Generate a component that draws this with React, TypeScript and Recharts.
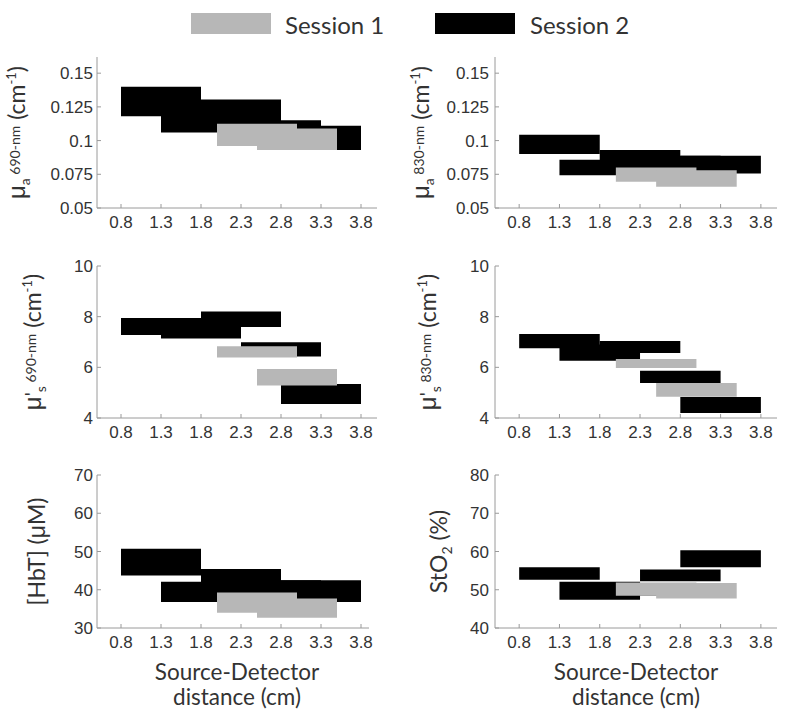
import React from 'react';
import { ComposedChart, XAxis, YAxis, ReferenceArea } from 'recharts';

// ---- data ----
const xTicks = [0.8, 1.3, 1.8, 2.3, 2.8, 3.3, 3.8];
const session2Starts = [0.8, 1.3, 1.8, 2.3, 2.8];
const session1Starts = [2.0, 2.5];
const blockWidth = 1.0;

// [low, high] per block
const mua690S2: [number, number][] = [[0.118, 0.14], [0.106, 0.124], [0.108, 0.1305], [0.1, 0.115], [0.093, 0.111]];
const mua690S1: [number, number][] = [[0.096, 0.1125], [0.093, 0.109]];
const mua830S2: [number, number][] = [[0.09, 0.1044], [0.0743, 0.0858], [0.08, 0.0931], [0.078, 0.0887], [0.0755, 0.0887]];
const mua830S1: [number, number][] = [[0.0694, 0.08], [0.0657, 0.078]];
const mus690S2: [number, number][] = [[7.28, 7.95], [7.14, 7.9], [7.59, 8.2], [6.43, 6.99], [4.55, 5.34]];
const mus690S1: [number, number][] = [[6.39, 6.83], [5.28, 5.93]];
const mus830S2: [number, number][] = [[6.75, 7.32], [6.26, 6.9], [6.57, 7.04], [5.38, 5.87], [4.2, 4.83]];
const mus830S1: [number, number][] = [[5.97, 6.33], [4.84, 5.38]];
const hbtS2: [number, number][] = [[43.7, 50.7], [36.8, 42.1], [39.5, 45.4], [38, 42.5], [36.8, 42.5]];
const hbtS1: [number, number][] = [[34.0, 39.3], [32.7, 37.7]];
const sto2S2: [number, number][] = [[52.6, 55.9], [47.4, 52.1], [48.5, 51.5], [52.2, 55.3], [55.9, 60.3]];
const sto2S1: [number, number][] = [[48.4, 51.9], [47.7, 51.75]];

const muaTicks = [0.05, 0.075, 0.1, 0.125, 0.15];
const musTicks = [4, 6, 8, 10];
const hbtTicks = [30, 40, 50, 60, 70];
const sto2Ticks = [40, 50, 60, 70, 80];

const legendLabels = ['Session 1', 'Session 2'];

// ---- styles ----
const GREY = '#b7b7b7';
const BLACK = '#000000';
const FRAME = '#9a9a9a';
const TEXT = '#333333';
const TICK_FONT = { fill: TEXT, fontSize: 17, fontFamily: 'Liberation Sans, Arial, sans-serif' };
const TITLE_FONT = 'Lato, "Open Sans", sans-serif';

const ML = 96;
const MT = 10;
const MR = 10;

type LabelKind = 'mua690' | 'mua830' | 'mus690' | 'mus830' | 'hbt' | 'sto2';

function renderYLabel(kind: LabelKind, x: number, y: number) {
  const common = {
    x,
    y,
    transform: `rotate(-90 ${x} ${y})`,
    textAnchor: 'middle' as const,
    fill: TEXT,
    fontFamily: TITLE_FONT,
    fontSize: 23,
  };
  const mu = <tspan fontFamily="Liberation Sans, Arial, sans-serif" fontSize={24}>μ</tspan>;
  if (kind === 'hbt') {
    return (
      <text {...common}>
        [HbT] (<tspan fontFamily="Liberation Sans, Arial, sans-serif">μ</tspan>M)
      </text>
    );
  }
  if (kind === 'sto2') {
    return (
      <text {...common}>
        StO<tspan fontSize={14} dy={5}>2</tspan>
        <tspan dy={-5}> (%)</tspan>
      </text>
    );
  }
  const wl = kind === 'mua690' || kind === 'mus690' ? '690-nm' : '830-nm';
  const isS = kind === 'mus690' || kind === 'mus830';
  return (
    <text {...common}>
      {mu}
      {isS ? <tspan fontSize={20} dy={-2}>'</tspan> : null}
      <tspan fontSize={14} dy={isS ? 7 : 5}>{isS ? 's' : 'a'}</tspan>
      <tspan fontSize={14} dy={-10}> {wl}</tspan>
      <tspan dy={5}> (cm</tspan>
      <tspan fontSize={13} dy={-9}>-1</tspan>
      <tspan dy={9}>)</tspan>
    </text>
  );
}

interface PanelProps {
  left: number;
  top: number;
  w: number;
  h: number;
  xDomain: [number, number];
  yDomain: [number, number];
  yTicks: number[];
  s1: [number, number][];
  s2: [number, number][];
  kind: LabelKind;
  labelX: number; // page x of label baseline
  xTitle?: boolean;
  titleDx?: number;
  tickGap: number;
}

function Panel(p: PanelProps) {
  const MB = p.xTitle ? 90 : 30;
  const W = p.w + ML + MR;
  const H = p.h + MT + MB;
  const chartLeft = p.left - ML;
  const chartTop = p.top - MT;
  const lx = p.labelX - chartLeft;
  const ly = MT + p.h / 2;
  const cx = ML + p.w / 2 + (p.titleDx || 0);
  return (
    <div style={{ position: 'absolute', left: chartLeft, top: chartTop, width: W, height: H }}>
      <ComposedChart width={W} height={H} margin={{ top: MT, right: MR, left: 0, bottom: 0 }} data={xTicks.map((x) => ({ x }))}>
        <XAxis
          xAxisId="b"
          dataKey="x"
          type="number"
          domain={p.xDomain}
          ticks={xTicks}
          interval={0}
          allowDataOverflow
          height={MB}
          tickSize={-4}
          tickMargin={12}
          axisLine={{ stroke: FRAME }}
          tickLine={{ stroke: FRAME }}
          tick={TICK_FONT}
          tickFormatter={(v: number) => v.toFixed(1)}
          label={
            p.xTitle
              ? () => (
                  <g>
                    <text x={cx} y={MT + p.h + 52} textAnchor="middle" fill={TEXT} fontFamily={TITLE_FONT} fontSize={22.5}>
                      Source-Detector
                    </text>
                    <text x={cx} y={MT + p.h + 77} textAnchor="middle" fill={TEXT} fontFamily={TITLE_FONT} fontSize={22.5}>
                      distance (cm)
                    </text>
                  </g>
                )
              : undefined
          }
        />
        <XAxis
          xAxisId="t"
          orientation="top"
          dataKey="x"
          type="number"
          domain={p.xDomain}
          ticks={xTicks}
          interval={0}
          allowDataOverflow
          height={0}
          tickSize={-4}
          axisLine={{ stroke: FRAME }}
          tickLine={{ stroke: FRAME }}
          tickFormatter={() => ''}
        />
        <YAxis
          yAxisId="l"
          type="number"
          domain={p.yDomain}
          ticks={p.yTicks}
          interval={0}
          allowDataOverflow
          width={ML}
          tickSize={-4}
          tickMargin={p.tickGap}
          axisLine={{ stroke: FRAME }}
          tickLine={{ stroke: FRAME }}
          tick={TICK_FONT}
          tickFormatter={(v: number) => String(v)}
          label={() => renderYLabel(p.kind, lx, ly)}
        />
        <YAxis
          yAxisId="r"
          orientation="right"
          type="number"
          domain={p.yDomain}
          ticks={p.yTicks}
          interval={0}
          allowDataOverflow
          width={0}
          tickSize={-4}
          axisLine={{ stroke: FRAME }}
          tickLine={{ stroke: FRAME }}
          tickFormatter={() => ''}
        />
        {p.s2.map((r, i) => (
          <ReferenceArea
            key={'s2' + i}
            xAxisId="b"
            yAxisId="l"
            x1={session2Starts[i]}
            x2={session2Starts[i] + blockWidth}
            y1={r[0]}
            y2={r[1]}
            fill={BLACK}
            fillOpacity={1}
            stroke="none"
            ifOverflow="visible"
          />
        ))}
        {p.s1.map((r, i) => (
          <ReferenceArea
            key={'s1' + i}
            xAxisId="b"
            yAxisId="l"
            x1={session1Starts[i]}
            x2={session1Starts[i] + blockWidth}
            y1={r[0]}
            y2={r[1]}
            fill={GREY}
            fillOpacity={1}
            stroke="none"
            ifOverflow="visible"
          />
        ))}
      </ComposedChart>
    </div>
  );
}

function Legend() {
  return (
    <svg width={787} height={45} style={{ position: 'absolute', left: 0, top: 0 }}>
      <rect x={191} y={13} width={80} height={21} fill={GREY} />
      <text x={285} y={34} fill={TEXT} fontFamily={TITLE_FONT} fontSize={24}>
        {legendLabels[0]}
      </text>
      <rect x={435} y={13} width={80} height={21} fill={BLACK} />
      <text x={530} y={34} fill={TEXT} fontFamily={TITLE_FONT} fontSize={24}>
        {legendLabels[1]}
      </text>
    </svg>
  );
}

export default function App() {
  return (
    <div style={{ position: 'absolute', left: 0, top: 0, width: 787, height: 725, background: '#fff', overflow: 'hidden' }}>
      <Legend />
      <Panel left={97} top={57} w={280} h={151} xDomain={[0.5, 4.0]} yDomain={[0.05, 0.162]} yTicks={muaTicks} s1={mua690S1} s2={mua690S2} kind="mua690" labelX={25} tickGap={8} />
      <Panel left={495} top={57} w={282} h={151} xDomain={[0.5, 4.0]} yDomain={[0.05, 0.162]} yTicks={muaTicks} s1={mua830S1} s2={mua830S2} kind="mua830" labelX={429} tickGap={10} />
      <Panel left={97} top={266} w={280} h={152} xDomain={[0.5, 4.0]} yDomain={[4, 10]} yTicks={musTicks} s1={mus690S1} s2={mus690S2} kind="mus690" labelX={41} tickGap={8} />
      <Panel left={495} top={266} w={282} h={152} xDomain={[0.5, 4.0]} yDomain={[4, 10]} yTicks={musTicks} s1={mus830S1} s2={mus830S2} kind="mus830" labelX={436} tickGap={10} />
      <Panel left={97} top={475} w={272} h={153} xDomain={[0.5, 3.9]} yDomain={[30, 70]} yTicks={hbtTicks} s1={hbtS1} s2={hbtS2} kind="hbt" labelX={45} xTitle titleDx={4} tickGap={8} />
      <Panel left={495} top={475} w={282} h={153} xDomain={[0.5, 4.0]} yDomain={[40, 80]} yTicks={sto2Ticks} s1={sto2S1} s2={sto2S2} kind="sto2" labelX={447} xTitle tickGap={10} />
    </div>
  );
}
